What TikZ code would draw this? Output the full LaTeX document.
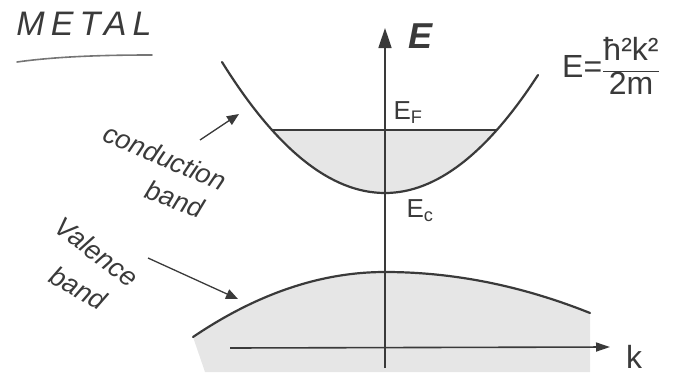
\documentclass[tikz,border=0pt]{standalone}
\usepackage{fontspec}
\setmainfont{Liberation Sans}
\newfontfamily\handfont[LetterSpace=18]{Liberation Sans}
\usetikzlibrary{arrows.meta}
\definecolor{ink}{HTML}{3A3A3A}
\definecolor{bandfill}{HTML}{E6E6E6}
\begin{document}
\begin{tikzpicture}[x=1pt,y={(0pt,-1pt)},
  band/.style={draw=ink,line width=2.2pt,line cap=round},
  axisline/.style={draw=ink,line width=1.6pt},
  pointer/.style={draw=ink,line width=1.3pt,-{Triangle[width=10pt,length=12pt]}},
  label/.style={text=ink,inner sep=0pt,font=\fontsize{27}{29}\selectfont\itshape},
  symb/.style={text=ink,inner sep=0pt,font=\fontsize{26}{28}\selectfont}]
\useasboundingbox (0,0) rectangle (674,383);
% coordinates
\coordinate (cbL) at (222,62);
\coordinate (cbV) at (385,193);
\coordinate (cbR) at (538,75);
\coordinate (vbL) at (193,337);
\coordinate (vbV) at (385,272);
\coordinate (vbR) at (590,313);
\coordinate (efL) at (273,130);
\coordinate (efR) at (497,130);
\coordinate (eBot) at (385,368);
\coordinate (eTop) at (385,28);
\coordinate (kL) at (230,348);
\coordinate (kR) at (610,347);
% shading of conduction band
\begin{scope}
\clip (0,130) rectangle (674,383);
\fill[bandfill] (cbL) .. controls (276.3,149.3) and (330.7,193) .. (cbV)
  .. controls (436,193) and (487,153.7) .. (cbR) -- cycle;
\end{scope}
% shading of valence band
\fill[bandfill] (vbL) .. controls (257,293.7) and (321,272) .. (vbV)
  .. controls (453.3,272) and (521.7,285.7) .. (vbR) -- (590,372) -- (205,372) -- cycle;
% Fermi level
\draw[ink,line width=1.1pt] (efL) -- (efR);
% bands
\draw[band] (cbL) .. controls (276.3,149.3) and (330.7,193) .. (cbV)
  .. controls (436,193) and (487,153.7) .. (cbR);
\draw[band] (vbL) .. controls (257,293.7) and (321,272) .. (vbV)
  .. controls (453.3,272) and (521.7,285.7) .. (vbR);
% axes
\draw[axisline,-{Triangle[width=13pt,length=20pt]}] (eBot) -- (eTop);
\draw[axisline,-{Triangle[width=9pt,length=14pt]}] (kL) -- (kR);
% labels
\node[symb,font=\fontsize{36}{36}\selectfont\bfseries\itshape] (Elab) at (420,36) {E};
\node[symb,font=\fontsize{32}{32}\selectfont] (klab) at (634,357) {k};
\node[symb] (EF) at (408,113) {E\textsubscript{F}};
\node[symb] (Ec) at (420,211) {E\textsubscript{c}};
\node[symb,font=\fontsize{32}{34}\selectfont] (disp) at (611,66)
  {E=$\displaystyle\frac{\mbox{ħ²k²}}{\mbox{2m}}$};
% title
\node[text=ink,inner sep=0pt,font=\fontsize{34}{36}\selectfont\handfont\itshape] (title) at (84,24) {METAL};
\draw[ink!70,line width=1.6pt,line cap=round] (17,62) .. controls (60,56) and (110,55) .. (152,55);
% conduction band label
\node[label,rotate=-23] (cond) at (165,157) {conduction};
\node[label,rotate=-20] (condb) at (175,199) {band};
\coordinate (condBase) at (200,140);
\coordinate (condTip) at (239,114);
\draw[pointer] (condBase) -- (condTip);
% valence band label
\node[label,rotate=-37] (val) at (97,252) {Valence};
\node[label,rotate=-30] (valb) at (78,288) {band};
\coordinate (valBase) at (148,258);
\coordinate (valTip) at (238,299);
\draw[pointer] (valBase) -- (valTip);
\end{tikzpicture}
\end{document}
